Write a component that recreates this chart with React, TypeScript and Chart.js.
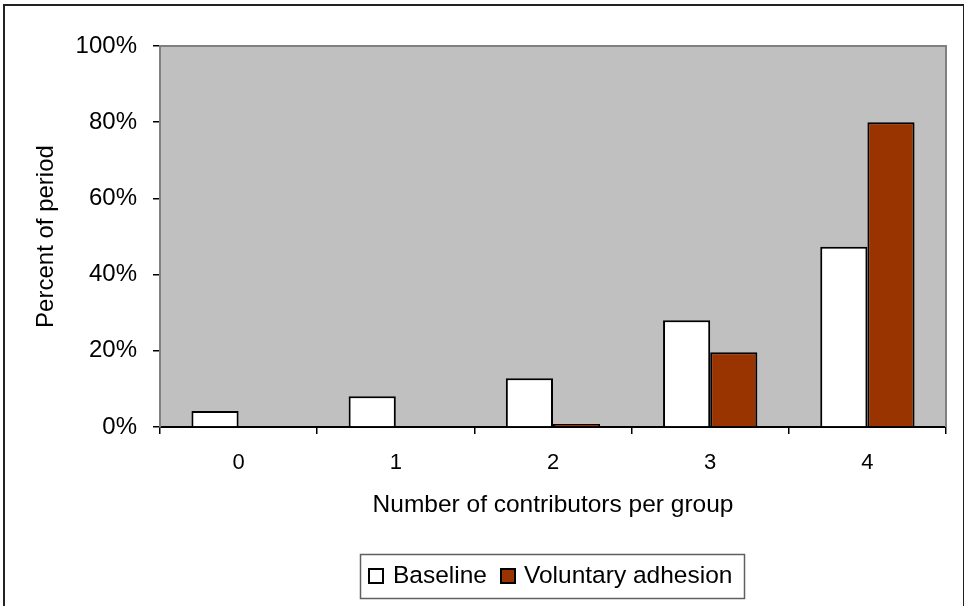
import React, { useEffect, useRef } from "react";
import { Chart, registerables } from "chart.js";

Chart.register(...registerables);

const categories = ["0", "1", "2", "3", "4"];
const baselineValues = [4.2, 8.1, 12.8, 28.0, 47.3];
const voluntaryValues = [0, 0, 0.8, 19.6, 80.0];
const seriesNames = ["Baseline", "Voluntary adhesion"];
const yTicks = [0, 20, 40, 60, 80, 100];

const FONT = "'Liberation Sans', Arial, Helvetica, sans-serif";
const VOL_COLOR = "#993300";

const framePlugin = {
  id: "frame",
  beforeDraw(chart: any) {
    const { ctx, chartArea } = chart;
    ctx.save();
    ctx.fillStyle = "#ffffff";
    ctx.fillRect(0, 0, chart.width, chart.height);
    ctx.fillStyle = "#c0c0c0";
    ctx.fillRect(chartArea.left, chartArea.top, chartArea.right - chartArea.left, chartArea.bottom - chartArea.top);
    ctx.restore();
  },
  beforeDatasetsDraw(chart: any) {
    const { ctx, chartArea } = chart;
    ctx.save();
    ctx.strokeStyle = "#808080";
    ctx.lineWidth = 2;
    ctx.beginPath();
    ctx.moveTo(chartArea.left, chartArea.top);
    ctx.lineTo(chartArea.right, chartArea.top);
    ctx.lineTo(chartArea.right, chartArea.bottom);
    ctx.stroke();
    ctx.restore();
  },
  afterDraw(chart: any) {
    const { ctx } = chart;
    ctx.save();
    // outer border
    ctx.strokeStyle = "#222222";
    ctx.lineWidth = 2;
    ctx.strokeRect(4, 5, 960, 700);
    // legend box
    ctx.strokeStyle = "#606060";
    ctx.lineWidth = 1.5;
    ctx.strokeRect(360.5, 554.5, 384, 44);
    const items = [
      { name: seriesNames[0], color: "#ffffff", mx: 369, tx: 393 },
      { name: seriesNames[1], color: VOL_COLOR, mx: 501, tx: 524 },
    ];
    ctx.font = `24.5px ${FONT}`;
    ctx.textBaseline = "alphabetic";
    ctx.textAlign = "left";
    for (const it of items) {
      ctx.fillStyle = it.color;
      ctx.fillRect(it.mx, 569, 14, 14);
      ctx.strokeStyle = "#000000";
      ctx.lineWidth = 2;
      ctx.strokeRect(it.mx, 569, 14, 14);
      ctx.fillStyle = "#000000";
      ctx.fillText(it.name, it.tx, 583);
    }
    ctx.restore();
  },
};

export default function App() {
  const ref = useRef<HTMLCanvasElement | null>(null);
  useEffect(() => {
    if (!ref.current) return;
    const chart = new Chart(ref.current, {
      type: "bar",
      data: {
        labels: categories,
        datasets: [
          {
            label: seriesNames[0],
            data: baselineValues,
            backgroundColor: "#ffffff",
            borderColor: "#000000",
            borderWidth: 2,
            categoryPercentage: 0.6,
            barPercentage: 1.0,
          },
          {
            label: seriesNames[1],
            data: voluntaryValues,
            backgroundColor: VOL_COLOR,
            borderColor: "#000000",
            borderWidth: 2,
            categoryPercentage: 0.6,
            barPercentage: 1.0,
          },
        ],
      },
      options: {
        responsive: false,
        animation: false,
        devicePixelRatio: 1,
        layout: { padding: { left: 32, top: 46, right: 18, bottom: 86 } },
        plugins: {
          legend: { display: false },
          tooltip: { enabled: false },
        },
        scales: {
          x: {
            grid: {
              offset: true,
              drawOnChartArea: false,
              drawTicks: true,
              tickLength: 7,
              color: "#000000",
              lineWidth: 1.5,
            },
            border: { display: true, color: "#000000", width: 2 },
            ticks: {
              color: "#000000",
              font: { family: FONT, size: 22 },
              padding: 16,
              maxRotation: 0,
            },
            title: {
              display: true,
              text: "Number of contributors per group",
              color: "#000000",
              font: { family: FONT, size: 24.5 },
              padding: { top: 0, bottom: 0 },
            },
            afterFit(scale: any) {
              scale.height = 93;
            },
          },
          y: {
            min: 0,
            max: 100,
            afterBuildTicks(scale: any) {
              scale.ticks = yTicks.map((v) => ({ value: v }));
            },
            grid: {
              drawOnChartArea: false,
              drawTicks: true,
              tickLength: 7,
              color: "#000000",
              lineWidth: 1.5,
            },
            border: { display: true, color: "#808080", width: 2 },
            ticks: {
              color: "#000000",
              font: { family: FONT, size: 24 },
              padding: 16,
              callback: (v: any) => `${v}%`,
            },
            title: {
              display: true,
              text: "Percent of period",
              color: "#000000",
              font: { family: FONT, size: 24 },
              padding: { top: 0, bottom: 0 },
            },
            afterFit(scale: any) {
              scale.width = 128;
            },
          },
        },
      },
      plugins: [framePlugin],
    });
    return () => chart.destroy();
  }, []);
  return (
    <div style={{ position: "absolute", left: 0, top: 0, width: 964, height: 606 }}>
      <canvas ref={ref} width={964} height={606} />
    </div>
  );
}
